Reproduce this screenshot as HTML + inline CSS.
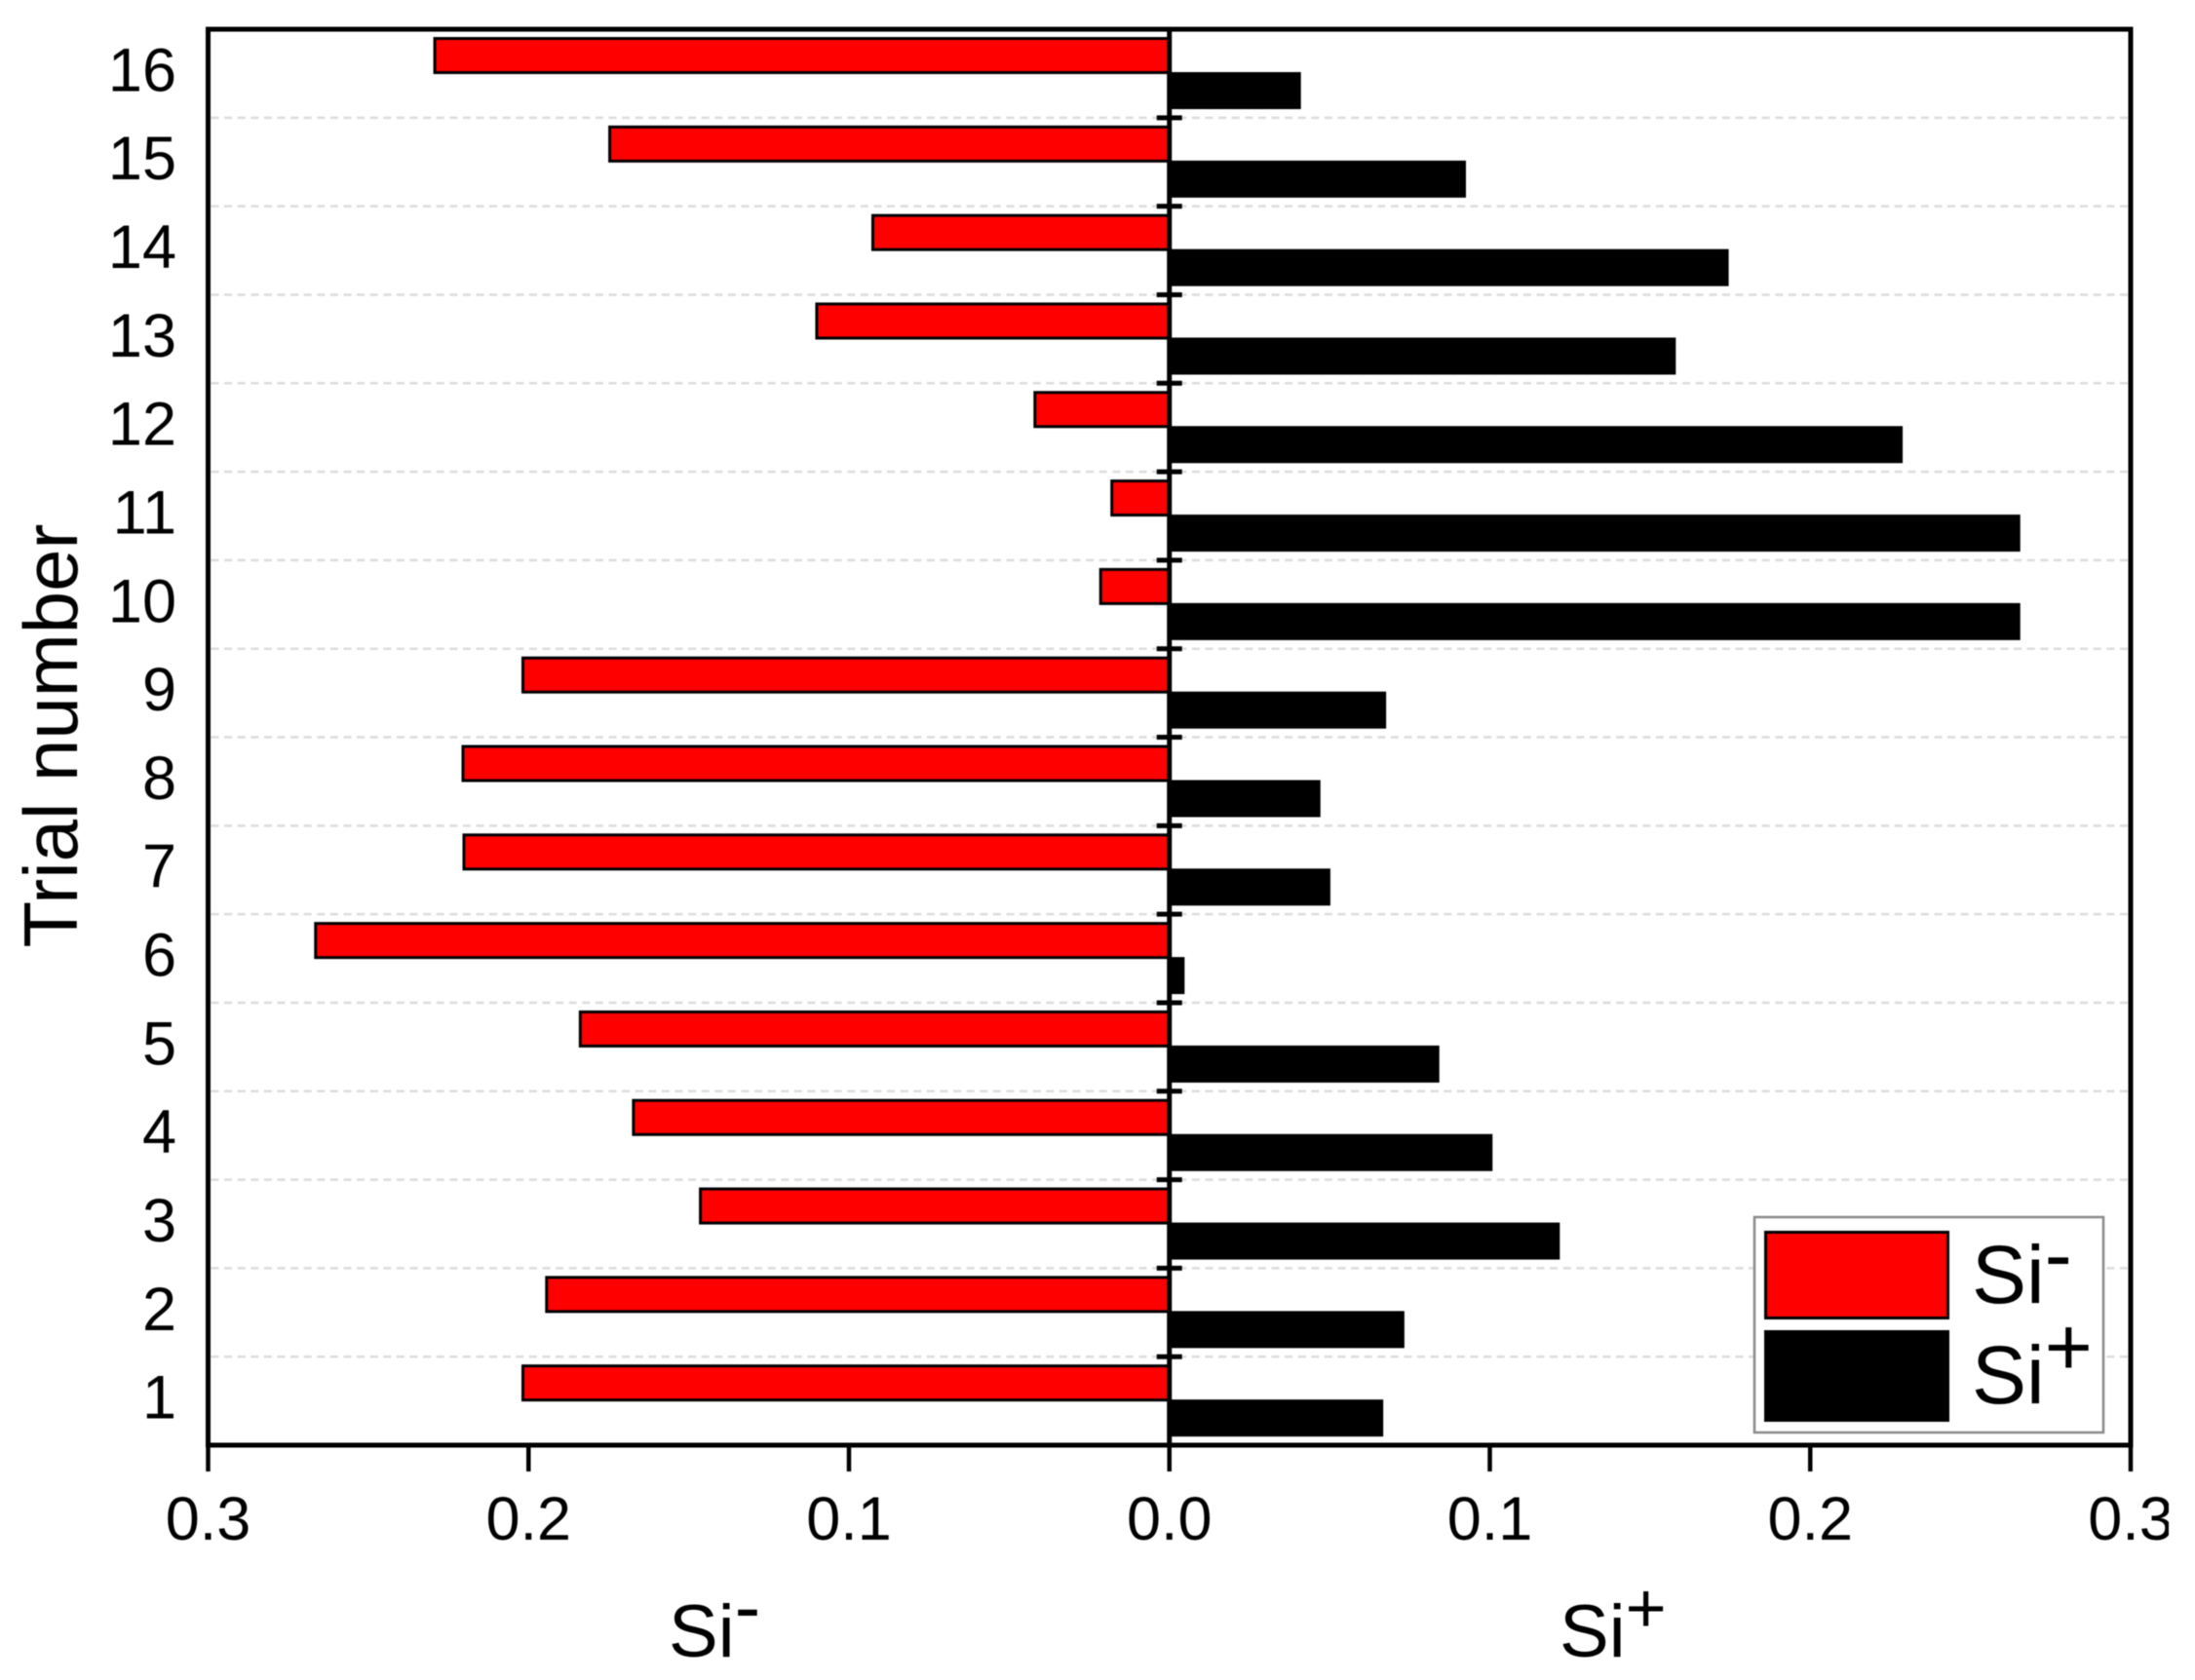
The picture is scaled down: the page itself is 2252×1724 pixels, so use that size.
<!DOCTYPE html>
<html lang="en">
<head>
<meta charset="utf-8">
<title>Trial number sensitivity chart</title>
<style>
html,body{margin:0;padding:0;background:#fff;}
svg{display:block;filter:blur(0.6px);}
text{font-family:"Liberation Sans",Arial,sans-serif;fill:#000;}
</style>
</head>
<body>
<svg id="chart" xmlns="http://www.w3.org/2000/svg" width="2252" height="1724" viewBox="0 0 2252 1724">
  <rect x="0" y="0" width="2252" height="1724" fill="#fff"/>
  <g id="grid"></g>
  <g id="bars"></g>
  <g id="axes"></g>
  <g id="xlabels"></g>
  <rect x="2225" y="1530" width="27" height="70" fill="#fff"/>
  <g id="ylabels"></g>
  <text transform="translate(79,755) rotate(-90)" text-anchor="middle" font-size="78">Trial number</text>
  <text x="686" y="1700" font-size="76">Si<tspan dy="-24" font-size="80">-</tspan></text>
  <text x="1600" y="1700" font-size="76">Si<tspan dy="-25" font-size="72">+</tspan></text>
  <g>
    <rect x="1800" y="1249" width="358" height="221" fill="#fff" stroke="#8a8a8a" stroke-width="2.5"/>
    <rect x="1811.5" y="1264.5" width="187" height="88" fill="#ff0000" stroke="#000" stroke-width="3"/>
    <rect x="1811.5" y="1366.5" width="187" height="91" fill="#000" stroke="#000" stroke-width="3"/>
    <text x="2023" y="1337" font-size="84">Si<tspan dy="-21" font-size="84">-</tspan></text>
    <text x="2023" y="1440" font-size="84">Si<tspan dy="-29" font-size="84">+</tspan></text>
  </g>
</svg>
<script>
var trials = [1, 2, 3, 4, 5, 6, 7, 8, 9, 10, 11, 12, 13, 14, 15, 16];
var siMinus = [0.2013, 0.1939, 0.1459, 0.1668, 0.1834, 0.266, 0.2197, 0.22, 0.2013, 0.021, 0.0175, 0.0415, 0.1096, 0.0921, 0.1742, 0.2288];
var siPlus = [0.0672, 0.0738, 0.1223, 0.1013, 0.0847, 0.0052, 0.0507, 0.0476, 0.0681, 0.266, 0.266, 0.2293, 0.1585, 0.175, 0.093, 0.0415];
var xTickValues = [-0.3, -0.2, -0.1, 0, 0.1, 0.2, 0.3];
var xTickLabels = ['0.3', '0.2', '0.1', '0.0', '0.1', '0.2', '0.3'];

var NS = 'http://www.w3.org/2000/svg';
var plotLeft = 213.5, plotRight = 2186, plotTop = 30, plotBottom = 1483;
var xDomainMax = 0.3;
function xScale(v) {
  return plotLeft + (v + xDomainMax) / (2 * xDomainMax) * (plotRight - plotLeft);
}
var bandH = (plotBottom - plotTop) / trials.length;
function bandTop(i) {
  return plotBottom - (i + 1) * bandH;
}
function make(tag, attrs, parent) {
  var el = document.createElementNS(NS, tag);
  for (var k in attrs) { el.setAttribute(k, attrs[k]); }
  parent.appendChild(el);
  return el;
}
var gridG = document.getElementById('grid');
var barsG = document.getElementById('bars');
var axesG = document.getElementById('axes');
var xlabG = document.getElementById('xlabels');
var ylabG = document.getElementById('ylabels');
var cx = xScale(0);

trials.forEach(function (t, i) {
  if (i > 0) {
    var gy = bandTop(i) + bandH;
    var gl = make('line', {x1: plotLeft + 3, x2: plotRight - 3, y1: gy, y2: gy, stroke: '#dcdcdc', 'stroke-width': 2.5, 'stroke-dasharray': '8 5.6'}, gridG);
    
    
  }
});

trials.forEach(function (t, i) {
  var top = bandTop(i);
  var xr = xScale(-siMinus[i]);
  var red = make('rect', {x: xr - 1.5, y: top + 9.5, width: cx - xr + 1.5, height: 35, fill: '#ff0000', stroke: '#000', 'stroke-width': 3}, barsG);
  
  
  var xb = xScale(siPlus[i]);
  var blk = make('rect', {x: cx, y: top + 44, width: xb - cx - 1.5, height: 38, fill: '#000'}, barsG);
  
  
  var lab = make('text', {x: 181, y: top + bandH / 2 + 18, 'text-anchor': 'end', 'font-size': 63}, ylabG);
  lab.textContent = String(t);
  
  
});

var frame = make('rect', {x: plotLeft, y: plotTop, width: plotRight - plotLeft, height: plotBottom - plotTop, fill: 'none', stroke: '#000', 'stroke-width': 5}, axesG);


var zero = make('line', {x1: cx, x2: cx, y1: plotTop, y2: plotBottom, stroke: '#000', 'stroke-width': 5}, axesG);



trials.forEach(function (t, i) {
  if (i > 0) {
    var ty = bandTop(i) + bandH;
    var tk = make('line', {x1: cx - 13, x2: cx + 13, y1: ty, y2: ty, stroke: '#000', 'stroke-width': 5}, axesG);
    
    
  }
});

xTickValues.forEach(function (v, i) {
  var x = xScale(v);
  var tk = make('line', {x1: x, x2: x, y1: plotBottom, y2: 1510, stroke: '#000', 'stroke-width': 4.5}, axesG);
  
  
  var lab = make('text', {x: x, y: 1580, 'text-anchor': 'middle', 'font-size': 63}, xlabG);
  lab.textContent = xTickLabels[i];
  
  
});
</script>
</body>
</html>
